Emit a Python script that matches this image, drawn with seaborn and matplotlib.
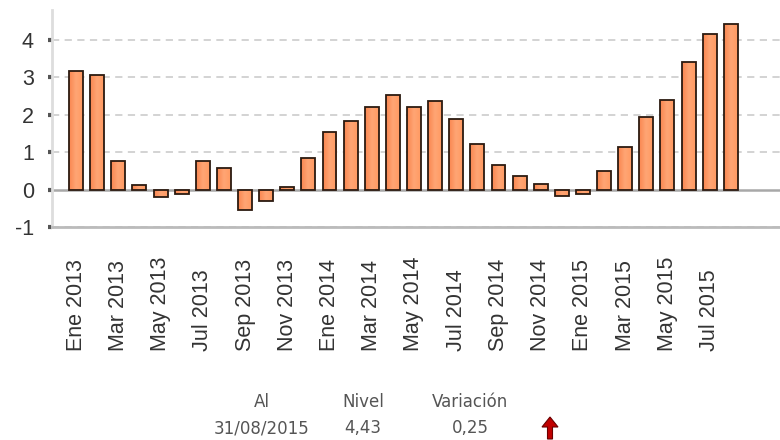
import matplotlib
matplotlib.use("Agg")
import matplotlib.pyplot as plt
import seaborn as sns
import pandas as pd
import numpy as np
from matplotlib.patches import FancyArrow
from matplotlib.colors import LinearSegmentedColormap

# ---- data ----
months = ["Ene", "Feb", "Mar", "Abr", "May", "Jun", "Jul", "Ago", "Sep", "Oct", "Nov", "Dic"]
periods = [f"{m} {y}" for y in (2013, 2014, 2015) for m in months][:32]
values = [3.18, 3.05, 0.76, 0.13, -0.19, -0.12, 0.76, 0.58, -0.54, -0.30, 0.08, 0.85,
          1.54, 1.84, 2.21, 2.52, 2.21, 2.37, 1.88, 1.21, 0.66, 0.36, 0.15, -0.18,
          -0.13, 0.50, 1.14, 1.93, 2.40, 3.41, 4.16, 4.43]
yticks = [-1, 0, 1, 2, 3, 4]
footer_head = ["Al", "Nivel", "Variación"]
footer_vals = ["31/08/2015", "4,43", "0,25"]

df = pd.DataFrame({"periodo": periods, "valor": values})

sns.set_theme(style="white")
plt.rcParams["font.family"] = ["Liberation Sans", "DejaVu Sans"]

W, H = 780, 440
fig = plt.figure(figsize=(W / 100, H / 100), dpi=100)
ax = fig.add_axes([52 / W, 1 - 227 / H, 1 - 52 / W, (227 - 10) / H])

sns.barplot(data=df, x="periodo", y="valor", color="#FF9A66", saturation=1,
            width=0.66, edgecolor="#2b1a10", linewidth=1.3, ax=ax, zorder=3)

# horizontal gradient fill inside each bar (style only)
cmap = LinearSegmentedColormap.from_list("bar", ["#F98650", "#FFA574", "#FF9A62"])
grad = np.linspace(0, 1, 64).reshape(1, -1)
for p in list(ax.patches):
    x0, y0 = p.get_x(), p.get_y()
    w, h = p.get_width(), p.get_height()
    im = ax.imshow(grad, cmap=cmap, aspect="auto", extent=[x0, x0 + w, y0, y0 + h],
                   origin="lower", zorder=3.5, interpolation="bilinear")
    im.set_clip_path(p)
    p.set_facecolor("none")
    p.set_zorder(4)

ax.set_ylim(-1, 4.8)
ax.set_xlim(-1.14, 33.33)
ax.set_aspect("auto")
ax.set_yticks(yticks)
ax.set_yticklabels([str(v) for v in yticks], fontsize=15.5, color="#333333")
for v in yticks:
    if v == 0:
        ax.axhline(v, color="#a8a8a8", lw=1.8, zorder=2)
    else:
        ax.axhline(v, color="#d0d0d0", lw=1.3, ls=(0, (4, 3)), zorder=1)

ticks = list(range(0, 32, 2))
ax.set_xticks(ticks)
ax.set_xticklabels([periods[i] for i in ticks], rotation=90, fontsize=15.5,
                   color="#333333", va="bottom", ha="center")
ax.tick_params(axis="x", length=0, pad=89)
ax.tick_params(axis="y", length=3, width=3, color="#555555", pad=10, direction="out", left=True)
ax.set_xlabel("")
ax.set_ylabel("")

for s in ("top", "right"):
    ax.spines[s].set_visible(False)
ax.spines["left"].set_color("#dddddd")
ax.spines["left"].set_linewidth(2)
ax.spines["bottom"].set_color("#bbbbbb")
ax.spines["bottom"].set_linewidth(2)

# footer table
cols = [262, 363, 470]
for cx, h, v in zip(cols, footer_head, footer_vals):
    fig.text(cx / W, 1 - 402 / H, h, ha="center", va="center", fontsize=12,
             color="#555555", family="DejaVu Sans")
    fig.text(cx / W, 1 - 428 / H, v, ha="center", va="center", fontsize=12,
             color="#555555", family="DejaVu Sans")

arrow = FancyArrow(550 / W, 1 - 439 / H, 0, 22 / H, width=5 / W, head_width=16 / W,
                   head_length=10 / H, length_includes_head=True,
                   transform=fig.transFigure, facecolor="#c00000",
                   edgecolor="#6a0000", linewidth=0.8)
fig.patches.append(arrow)

fig.savefig("out.png", dpi=100)
